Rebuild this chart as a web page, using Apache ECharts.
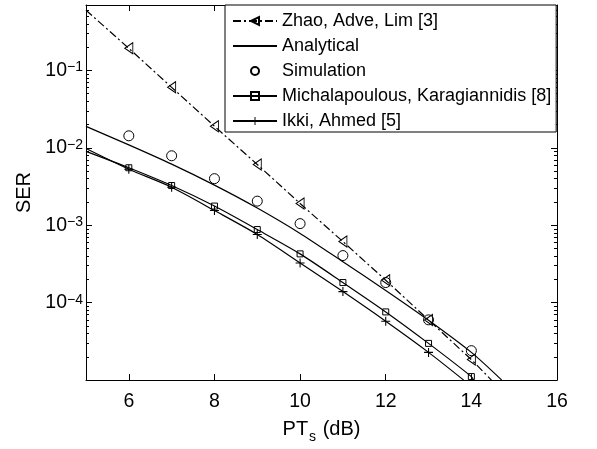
<!DOCTYPE html>
<html><head><meta charset="utf-8">
<script src="https://cdn.jsdelivr.net/npm/echarts@6/dist/echarts.min.js"></script>
<style>html,body{margin:0;padding:0;background:#fff}#c{width:597px;height:449px}</style>
</head><body><div id="c"></div>
<script>
// ---- data ----
const markerX = [6, 7, 8, 9, 10, 11, 12, 13, 14];

const zhaoX = [5, 6, 7, 8, 9, 10, 11, 12, 13, 14, 14.47];
const zhaoY = [0.6, 0.193, 0.0605, 0.019, 0.0061, 0.00191, 6.16e-4, 1.95e-4, 5.98e-5, 1.84e-5, 1.0e-5];

const analyticalX = [5, 6, 7, 8, 9, 10, 11, 12, 13, 14, 14.71];
const analyticalY = [0.01895, 0.01092, 0.00616, 0.0033, 0.00167, 7.85e-4, 3.38e-4, 1.44e-4, 5.93e-5, 2.28e-5, 1.0e-5];

const simX = [6, 7, 8, 9, 10, 11, 12, 13, 14];
const simY = [0.0143, 0.0079, 0.0040, 0.00205, 0.00105, 4.06e-4, 1.82e-4, 6.0e-5, 2.4e-5];

const michX = [5, 6, 7, 8, 9, 10, 11, 12, 13, 14, 14.05];
const michY = [0.0090, 0.00553, 0.00326, 0.00177, 8.8e-4, 4.27e-4, 1.82e-4, 7.6e-5, 2.98e-5, 1.11e-5, 1.0e-5];

const ikkiX = [5, 6, 7, 8, 9, 10, 11, 12, 13, 13.82];
const ikkiY = [0.0098, 0.0053, 0.0031, 0.00155, 7.6e-4, 3.26e-4, 1.39e-4, 5.75e-5, 2.28e-5, 1.0e-5];

const seriesNames = ['Zhao, Adve, Lim [3]', 'Analytical', 'Simulation', 'Michalapoulous, Karagiannidis [8]', 'Ikki, Ahmed [5]'];

const xTicks = [6, 8, 10, 12, 14, 16];
const yTicks = [1e-4, 1e-3, 1e-2, 1e-1];
const yMinorTicks = [2e-5,3e-5,4e-5,5e-5,6e-5,7e-5,8e-5,9e-5,
  2e-4,3e-4,4e-4,5e-4,6e-4,7e-4,8e-4,9e-4,
  2e-3,3e-3,4e-3,5e-3,6e-3,7e-3,8e-3,9e-3,
  2e-2,3e-2,4e-2,5e-2,6e-2,7e-2,8e-2,9e-2,
  2e-1,3e-1,4e-1,5e-1,6e-1,7e-1];

// ---- chart ----
const FONT = '"Liberation Sans", Arial, Helvetica, sans-serif';
const BLACK = '#000';
const CLEAR = 'rgba(255,255,255,0)';

function build(xs, ys) {
  return xs.map((x, i) => markerX.indexOf(x) >= 0
    ? { value: [x, ys[i]] }
    : { value: [x, ys[i]], symbol: 'none' });
}
function expLabel(v) {
  const e = Math.round(Math.log10(v));
  return '{b|10}{s|' + String(e).replace('-', '\u2212') + '}';
}

const chart = echarts.init(document.getElementById('c'), null, { renderer: 'canvas' });
const tickLine = { color: BLACK, width: 1 };
const axisLine = { show: true, onZero: false, lineStyle: { color: BLACK, width: 1 } };

chart.setOption({
  animation: false,
  backgroundColor: '#fff',
  grid: { left: 86, right: 40, top: 5, bottom: 60, containLabel: false },
  legend: {
    orient: 'vertical', left: 225, top: 5,
    padding: [7, 5, 2, 7],
    itemWidth: 44, itemHeight: 10, itemGap: 7,
    backgroundColor: '#fff', borderColor: BLACK, borderWidth: 1, borderRadius: 0,
    textStyle: { fontSize: 18, color: BLACK, fontFamily: FONT },
    data: seriesNames
  },
  xAxis: [
    {
      type: 'value', min: 5, max: 16, position: 'bottom',
      axisLine: axisLine,
      axisTick: { show: true, inside: true, length: 6, customValues: xTicks, lineStyle: tickLine },
      axisLabel: { customValues: xTicks, fontSize: 19.5, color: BLACK, fontFamily: FONT, margin: 12 },
      splitLine: { show: false },
      name: '{a|PT}{s|s}{a| (dB)}', nameLocation: 'middle', nameGap: 25,
      nameTextStyle: {
        color: BLACK, fontFamily: FONT,
        rich: {
          a: { fontSize: 20, fontFamily: FONT, color: BLACK, lineHeight: 22, verticalAlign: 'top' },
          s: { fontSize: 14, fontFamily: FONT, color: BLACK, lineHeight: 14, padding: [13, 1, 0, 1] }
        }
      }
    },
    {
      type: 'value', min: 5, max: 16, position: 'top',
      axisLine: axisLine,
      axisTick: { show: true, inside: true, length: 6, customValues: xTicks, lineStyle: tickLine },
      axisLabel: { show: false },
      splitLine: { show: false }
    }
  ],
  yAxis: [
    {
      type: 'log', logBase: 10, min: 1e-5, max: 0.7, position: 'left',
      axisLine: axisLine,
      axisTick: { show: true, inside: true, length: 6, customValues: yTicks, lineStyle: tickLine },
      axisLabel: {
        customValues: yTicks, margin: 3, formatter: expLabel,
        rich: {
          b: { fontSize: 19.5, fontFamily: FONT, color: BLACK, lineHeight: 20, verticalAlign: 'bottom' },
          s: { fontSize: 14, fontFamily: FONT, color: BLACK, lineHeight: 12, verticalAlign: 'top', padding: [0, 0, 12, 0] }
        }
      },
      splitLine: { show: false },
      name: 'SER', nameLocation: 'middle', nameGap: 46, nameRotate: 90,
      nameTextStyle: { fontSize: 20, color: BLACK, fontFamily: FONT }
    },
    {
      type: 'log', logBase: 10, min: 1e-5, max: 0.7, position: 'right',
      axisLine: axisLine,
      axisTick: { show: true, inside: true, length: 6, customValues: yTicks, lineStyle: tickLine },
      axisLabel: { show: false },
      splitLine: { show: false }
    },
    {
      type: 'log', logBase: 10, min: 1e-5, max: 0.7, position: 'left',
      axisLine: { show: false },
      axisTick: { show: true, inside: true, length: 3, customValues: yMinorTicks, lineStyle: tickLine },
      axisLabel: { show: false },
      splitLine: { show: false }
    },
    {
      type: 'log', logBase: 10, min: 1e-5, max: 0.7, position: 'right',
      axisLine: { show: false },
      axisTick: { show: true, inside: true, length: 3, customValues: yMinorTicks, lineStyle: tickLine },
      axisLabel: { show: false },
      splitLine: { show: false }
    }
  ],
  series: [
    {
      name: seriesNames[0], type: 'line', data: build(zhaoX, zhaoY),
      symbol: 'path://M0,5L9,0L9,10Z', symbolSize: [8, 11],
      itemStyle: { color: CLEAR, borderColor: BLACK, borderWidth: 1 },
      lineStyle: { color: BLACK, width: 1.2, type: [8, 3, 2, 3] }
    },
    {
      name: seriesNames[1], type: 'line', data: build(analyticalX, analyticalY),
      symbol: 'circle', showSymbol: false, smooth: 0.25,
      itemStyle: { color: CLEAR, borderColor: CLEAR, borderWidth: 0 },
      lineStyle: { color: BLACK, width: 1.2 }
    },
    {
      name: seriesNames[2], type: 'line', data: build(simX, simY),
      symbol: 'circle', symbolSize: 10,
      itemStyle: { color: CLEAR, borderColor: BLACK, borderWidth: 1 },
      lineStyle: { color: BLACK, width: 0, opacity: 0 }
    },
    {
      name: seriesNames[3], type: 'line', data: build(michX, michY), smooth: 0.25,
      symbol: 'rect', symbolSize: 6,
      itemStyle: { color: CLEAR, borderColor: BLACK, borderWidth: 1 },
      lineStyle: { color: BLACK, width: 1.2 }
    },
    {
      name: seriesNames[4], type: 'line', data: build(ikkiX, ikkiY), smooth: 0.25,
      symbol: 'path://M4.4,0h1.2v4.4h4.4v1.2h-4.4v4.4h-1.2v-4.4h-4.4v-1.2h4.4z', symbolSize: 9,
      itemStyle: { color: BLACK, borderWidth: 0 },
      lineStyle: { color: BLACK, width: 1.2 }
    }
  ]
});
</script>
</body></html>
